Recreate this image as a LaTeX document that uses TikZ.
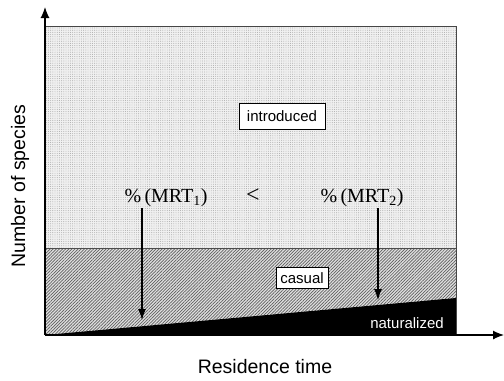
\documentclass[tikz,border=0pt]{standalone}
\usepackage{fontspec}
\setmainfont{Liberation Serif}
\setsansfont{Liberation Sans}
\usetikzlibrary{patterns,patterns.meta,arrows.meta}
\begin{document}
\begin{tikzpicture}[x=1bp,y=-1bp,
  axis/.style={line width=1.2bp,-{Latex[length=11bp,width=9bp]}},
  mrtarrow/.style={line width=1.1bp,-{Latex[length=11bp,width=8bp]}},
  labelbox/.style={draw=black,line width=0.8bp,fill=white,font=\sffamily\fontsize{15bp}{17bp}\selectfont,inner sep=0pt},
  serif/.style={font=\rmfamily\fontsize{20bp}{22bp}\selectfont,inner sep=0pt},
  axislabel/.style={font=\sffamily\fontsize{19.5bp}{22bp}\selectfont,inner sep=0pt}]
\useasboundingbox (0,0) rectangle (504,380);
% regions
\fill[gray!12] (45,26) rectangle (456,248);
\fill[pattern={Dots[distance=2.2bp,radius=0.45bp]},pattern color=gray!75] (45,26) rectangle (456,248);
\fill[gray!25] (45,248) rectangle (456,335);
\fill[pattern={Lines[angle=45,distance=2.2bp,line width=0.7bp]},pattern color=gray!75!black] (45,248) rectangle (456,335);
\draw[gray!60!black,line width=0.6bp] (45,248) -- (456,248);
\fill[black] (45,335) -- (456,298) -- (456,335) -- cycle;
\draw[gray!55!black,line width=0.9bp] (45,26) -- (456,26) -- (456,335);
% axes
\coordinate (o) at (45,335);
\coordinate (ytop) at (45,7);
\coordinate (xend) at (504,335);
\draw[axis] (o) -- (ytop);
\draw[axis] (o) -- (xend);
% labels
\node[labelbox,minimum width=86bp,minimum height=26bp] (intro) at (282,116) {introduced};
\node[labelbox,minimum width=52bp,minimum height=21bp] (casual) at (302,278) {casual};
\node[font=\sffamily\fontsize{15bp}{17bp}\selectfont,text=white,inner sep=0pt] (nat) at (407,323) {naturalized};
\node[serif] (m1) at (166,198) {\%\,(MRT\textsubscript{1})};
\node[serif,font=\rmfamily\fontsize{24bp}{26bp}\selectfont] (lt) at (253,196) {<};
\node[serif] (m2) at (362,198) {\%\,(MRT\textsubscript{2})};
\coordinate (a1s) at (142,208);
\coordinate (a1e) at (142,320);
\coordinate (a2s) at (378,208);
\coordinate (a2e) at (378,300);
\draw[mrtarrow] (a1s) -- (a1e);
\draw[mrtarrow] (a2s) -- (a2e);
\node[axislabel,rotate=90] (ylab) at (20,186) {Number of species};
\node[axislabel] (xlab) at (265,367) {Residence time};
\end{tikzpicture}
\end{document}
